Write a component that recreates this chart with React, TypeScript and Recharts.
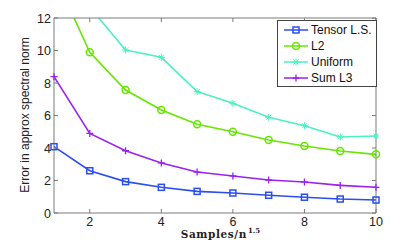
import React from 'react';
import { LineChart, Line, XAxis, YAxis } from 'recharts';

// samples / n^1.5
const samples = [1, 2, 3, 4, 5, 6, 7, 8, 9, 10];
const tensorLS = [4.08, 2.6, 1.93, 1.58, 1.33, 1.23, 1.09, 0.97, 0.86, 0.8];
const l2 = [14.7, 9.89, 7.57, 6.34, 5.46, 5.0, 4.49, 4.12, 3.82, 3.61];
const uniform = [18.0, 12.66, 10.03, 9.58, 7.47, 6.75, 5.89, 5.37, 4.68, 4.74];
const sumL3 = [8.39, 4.9, 3.83, 3.08, 2.52, 2.28, 2.03, 1.91, 1.7, 1.58];

const xTicks = [2, 4, 6, 8, 10];
const yTicks = [0, 2, 4, 6, 8, 10, 12];

const SERIES = [
  { key: 'tensor', name: 'Tensor L.S.', values: tensorLS, color: '#2b4ef2', marker: 'square' },
  { key: 'l2', name: 'L2', values: l2, color: '#66e600', marker: 'circle' },
  { key: 'uniform', name: 'Uniform', values: uniform, color: '#4cf0c4', marker: 'star' },
  { key: 'sumL3', name: 'Sum L3', values: sumL3, color: '#9b20f0', marker: 'plus' },
];

const data = samples.map((s, i) => {
  const row: any = { x: s };
  SERIES.forEach((ser) => (row[ser.key] = ser.values[i]));
  return row;
});

const AXIS = '#7a7a7a';
const FONT = 'Liberation Sans, Arial, sans-serif';
const SERIF = 'DejaVu Serif, Liberation Serif, serif';

function Marker({ cx, cy, type, color }: any) {
  if (cx == null || cy == null) return null;
  if (type === 'square')
    return <rect x={cx - 3} y={cy - 3} width={6} height={6} fill="none" stroke={color} strokeWidth={1.5} />;
  if (type === 'circle') return <circle cx={cx} cy={cy} r={3.5} fill="none" stroke={color} strokeWidth={1.5} />;
  if (type === 'plus')
    return (
      <path d={`M${cx - 3.5},${cy}H${cx + 3.5}M${cx},${cy - 3.5}V${cy + 3.5}`} stroke={color} strokeWidth={1.3} />
    );
  return (
    <path
      d={`M${cx - 3.5},${cy}H${cx + 3.5}M${cx},${cy - 3.5}V${cy + 3.5}M${cx - 2.5},${cy - 2.5}L${cx + 2.5},${cy + 2.5}M${cx - 2.5},${cy + 2.5}L${cx + 2.5},${cy - 2.5}`}
      stroke={color}
      strokeWidth={1}
    />
  );
}

// inward tick marks, MATLAB style
const BottomTick = ({ x, y, payload }: any) => (
  <g>
    <line x1={x} x2={x} y1={y} y2={y - 4} stroke={AXIS} />
    <text x={x} y={y + 12.5} textAnchor="middle" fontSize={12.5} fill="#222" fontFamily={FONT}>
      {payload.value}
    </text>
  </g>
);
const TopTick = ({ x, y }: any) => <line x1={x} x2={x} y1={y} y2={y + 4} stroke={AXIS} />;
const LeftTick = ({ x, y, payload }: any) => (
  <g>
    <line x1={x} x2={x + 4} y1={y} y2={y} stroke={AXIS} />
    <text x={x - 3} y={y + 4.5} textAnchor="end" fontSize={12.5} fill="#222" fontFamily={FONT}>
      {payload.value}
    </text>
  </g>
);
const RightTick = ({ x, y }: any) => <line x1={x} x2={x - 4} y1={y} y2={y} stroke={AXIS} />;

function LegendBox() {
  return (
    <div
      style={{
        position: 'absolute',
        left: 277,
        top: 20,
        width: 100,
        height: 67,
        border: '1px solid #444',
        background: '#fff',
        boxSizing: 'border-box',
        padding: '1px 0 0 0',
        fontFamily: FONT,
        fontSize: 12,
        color: '#111',
      }}
    >
      {SERIES.map((s) => (
        <div key={s.key} style={{ display: 'flex', alignItems: 'center', height: 16 }}>
          <svg width={26} height={12} style={{ marginLeft: 5, marginRight: 2 }}>
            <line x1={1} x2={25} y1={6} y2={6} stroke={s.color} strokeWidth={1.5} />
            <Marker cx={13} cy={6} type={s.marker} color={s.color} />
          </svg>
          <span>{s.name}</span>
        </div>
      ))}
    </div>
  );
}

export default function App() {
  return (
    <div style={{ position: 'absolute', left: 0, top: 0, width: 415, height: 240, background: '#fff', overflow: 'hidden' }}>
      <LineChart width={415} height={240} data={data} margin={{ top: 17, right: 38, bottom: 0, left: 53 }}>
        <XAxis
          dataKey="x"
          type="number"
          domain={[1, 10]}
          ticks={xTicks}
          axisLine={{ stroke: AXIS }}
          tickLine={false}
          tickSize={0}
          tickMargin={0}
          tick={<BottomTick />}
          height={27}
          label={{
            content: () => (
              <g>
                <text x={247} y={237.5} textAnchor="end" fontFamily={SERIF} fontWeight="bold" fontSize={10.5} letterSpacing={0.6} fill="#222">
                  Samples/n
                </text>
                <text x={248} y={232.5} textAnchor="start" fontFamily={SERIF} fontWeight="bold" fontSize={7} fill="#222">
                  1.5
                </text>
              </g>
            ),
          }}
        />
        <XAxis
          xAxisId="top"
          orientation="top"
          dataKey="x"
          type="number"
          domain={[1, 10]}
          ticks={xTicks}
          axisLine={{ stroke: AXIS }}
          tickLine={false}
          tickSize={0}
          tickMargin={0}
          tick={<TopTick />}
          height={1}
        />
        <YAxis
          type="number"
          domain={[0, 12]}
          ticks={yTicks}
          allowDataOverflow
          axisLine={{ stroke: AXIS }}
          tickLine={false}
          tickSize={0}
          tickMargin={0}
          tick={<LeftTick />}
          width={1}
          label={{
            content: () => (
              <text
                transform={`translate(29, 115) rotate(-90)`}
                textAnchor="middle"
                fontFamily={FONT}
                fontSize={12}
                fill="#222"
              >
                Error in approx spectral norm
              </text>
            ),
          }}
        />
        <YAxis
          yAxisId="right"
          orientation="right"
          type="number"
          domain={[0, 12]}
          ticks={yTicks}
          allowDataOverflow
          axisLine={{ stroke: AXIS }}
          tickLine={false}
          tickSize={0}
          tickMargin={0}
          tick={<RightTick />}
          width={1}
        />
        {SERIES.map((s) => (
          <Line
            key={s.key}
            dataKey={s.key}
            name={s.name}
            stroke={s.color}
            strokeWidth={1.6}
            isAnimationActive={false}
            dot={(p: any) => <Marker key={`${s.key}-${p.index}`} cx={p.cx} cy={p.cy} type={s.marker} color={s.color} />}
            activeDot={false}
          />
        ))}
      </LineChart>
      <LegendBox />
    </div>
  );
}
